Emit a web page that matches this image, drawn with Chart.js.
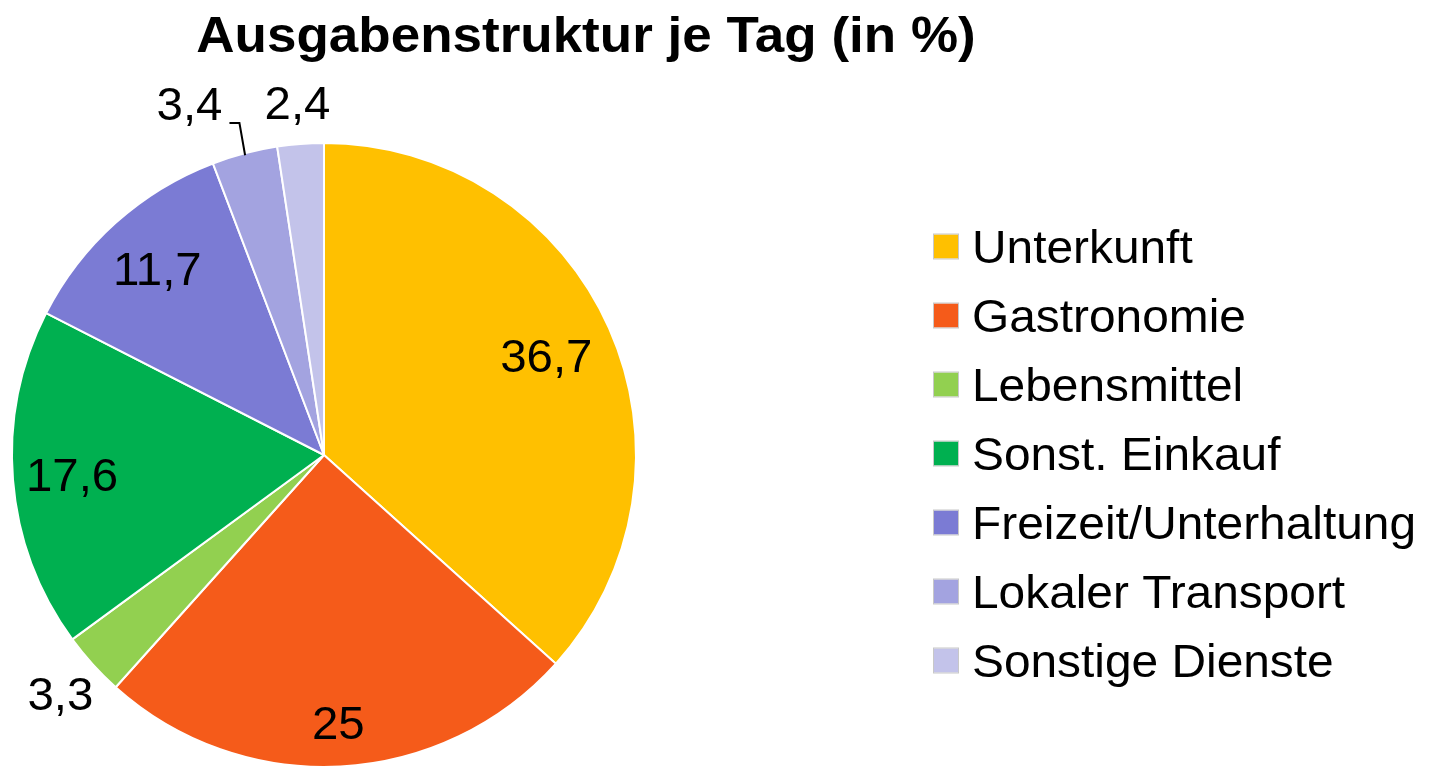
<!DOCTYPE html>
<html>
<head>
<meta charset="utf-8">
<script src="https://cdn.jsdelivr.net/npm/chart.js@4"></script>
<style>
  body { margin: 0; background: #fff; }
  #wrap { width: 1435px; height: 770px; }
</style>
</head>
<body>
<div id="wrap"><canvas id="pieChart" width="1435" height="770"></canvas></div>
<script>
// data
const categories = ['Unterkunft', 'Gastronomie', 'Lebensmittel', 'Sonst. Einkauf',
                    'Freizeit/Unterhaltung', 'Lokaler Transport', 'Sonstige Dienste'];
const shares = [36.7, 25, 3.3, 17.6, 11.7, 3.4, 2.4];
const colours = ['#FFC000', '#F55B1A', '#92D050', '#00B050', '#7B7BD4', '#A3A3E0', '#C3C3EA'];
const chartTitle = 'Ausgabenstruktur je Tag (in %)';

// label placement (fraction of radius), 'leader' draws the little elbow line
const labelRadius = [0.78, 0.86, 1.14, 0.81, 0.80, 1.09, 1.13];
const labelLeader = [false, false, false, false, false, true, false];

const FONT = '"Liberation Sans", Arial, sans-serif';

// text in the original is a bit wider than Liberation Sans
function wideText(c, txt, x, y, sx) {
  c.save();
  c.translate(x, y);
  c.scale(sx, 1);
  c.fillText(txt, 0, 0);
  c.restore();
}

const labelsPlugin = {
  id: 'pieLabels',
  afterDatasetsDraw(chart) {
    const c = chart.ctx;
    const meta = chart.getDatasetMeta(0);
    c.save();
    c.fillStyle = '#000';
    c.font = '46px ' + FONT;
    c.textBaseline = 'alphabetic';
    meta.data.forEach((arc, i) => {
      const p = arc.getProps(['x', 'y', 'startAngle', 'endAngle', 'outerRadius'], true);
      const mid = (p.startAngle + p.endAngle) / 2;
      const r = p.outerRadius * labelRadius[i];
      const lx = p.x + Math.cos(mid) * r;
      const ly = p.y + Math.sin(mid) * r;
      const txt = String(shares[i]).replace('.', ',');
      if (labelLeader[i]) {
        const ax = p.x + Math.cos(mid) * (p.outerRadius - 2);
        const ay = p.y + Math.sin(mid) * (p.outerRadius - 2);
        c.strokeStyle = '#000';
        c.lineWidth = 2;
        c.beginPath();
        c.moveTo(ax, ay);
        c.lineTo(lx + 2, ly - 3);
        c.lineTo(lx - 8, ly - 3);
        c.stroke();
        c.textAlign = 'right';
        wideText(c, txt, lx - 15, ly - 6, 1.03);
      } else {
        c.textAlign = 'center';
        wideText(c, txt, lx, ly + 16, 1.03);
      }
    });
    c.restore();
  },
  afterDraw(chart) {
    const c = chart.ctx;
    c.save();
    // title
    c.fillStyle = '#000';
    c.font = 'bold 50px ' + FONT;
    c.textAlign = 'center';
    c.textBaseline = 'alphabetic';
    wideText(c, chartTitle, 586, 52, 1.06);
    // legend
    c.font = '46px ' + FONT;
    c.textAlign = 'left';
    categories.forEach((name, i) => {
      const cy = 246.5 + i * 69;
      c.fillStyle = colours[i];
      c.fillRect(934, cy - 12, 24, 24);
      c.strokeStyle = '#c8c8c8';
      c.lineWidth = 1;
      c.strokeRect(933.5, cy - 12.5, 25, 25);
      c.fillStyle = '#000';
      wideText(c, name, 972, cy + 16, 1.04);
    });
    c.restore();
  }
};

new Chart(document.getElementById('pieChart'), {
  type: 'pie',
  data: {
    labels: categories,
    datasets: [{
      data: shares,
      backgroundColor: colours,
      borderColor: '#ffffff',
      borderWidth: 2
    }]
  },
  options: {
    responsive: false,
    animation: false,
    layout: { padding: { top: 142, bottom: 2, left: 11, right: 798 } },
    plugins: {
      legend: { display: false },
      tooltip: { enabled: false }
    }
  },
  plugins: [labelsPlugin]
});
</script>
</body>
</html>
